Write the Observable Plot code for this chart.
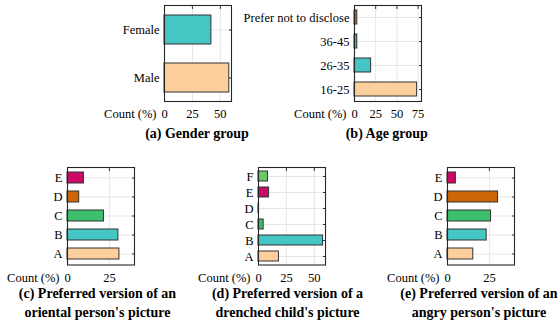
<!DOCTYPE html>
<html><head><meta charset="utf-8">
<script src="https://cdn.jsdelivr.net/npm/d3@7"></script>
<script src="https://cdn.jsdelivr.net/npm/@observablehq/plot@0.6"></script>
<style>
body{margin:0;background:#fff;}
#root{position:relative;width:559px;height:324px;overflow:hidden;font-family:'Liberation Serif','Times New Roman',Times,'DejaVu Serif',serif;background:#fff;}
.panel{position:absolute;}
.panel svg, .panel svg text{font-family:'Liberation Serif','Times New Roman',Times,'DejaVu Serif',serif !important;}
.cap{position:absolute;font-family:'Liberation Serif','Times New Roman',Times,'DejaVu Serif',serif;font-weight:bold;font-size:14px;text-align:center;white-space:nowrap;line-height:19px;transform:translateX(-50%);color:#000;}
</style></head><body><div id="root"></div>
<script>
// ---- data ----
const genderCats = ["Male", "Female"];
const genderVals = [58, 42];
const ageCats = ["16-25", "26-35", "36-45", "Prefer not to disclose"];
const ageVals = [73.8, 19.6, 3.3, 3.3];
const orientalCats = ["A", "B", "C", "D", "E"];
const orientalVals = [31, 30.4, 21.8, 7, 9.8];
const drenchedCats = ["A", "B", "C", "D", "E", "F"];
const drenchedVals = [18.3, 57.8, 4.6, 0.5, 9.5, 8.5];
const angryCats = ["A", "B", "C", "D", "E"];
const angryVals = [15.4, 23.4, 26, 30.2, 5];
const ticks60 = [0, 25, 50];
const ticks79 = [0, 25, 50, 75];
const ticks40 = [0, 25];
const axisLabel = "Count (%)";
const captions = [
  "(a) Gender group",
  "(b) Age group",
  "(c) Preferred version of an<br>oriental person's picture",
  "(d) Preferred version of a<br>drenched child's picture",
  "(e) Preferred version of an<br>angry person's picture"
];
// ---- styling ----
const palette = ["#fdcf9c", "#45c5c4", "#3dbf6d", "#cc6606", "#cc0a66", "#66cc66"];
const agePalette = ["#fdcf9c", "#45c5c4", "#3dbf6d", "#cc6606"];
const serif = "'Liberation Serif','Times New Roman',Times,'DejaVu Serif',serif";

const root = document.getElementById("root");

function panel(cats, vals, colors, domain, ticks, fl, ft, fw, fh, ml) {
  const mt = 3, mr = 6, mb = 24;
  const data = cats.map((c, i) => ({c, v: vals[i], col: colors[i]}));
  const p = Plot.plot({
    width: ml + fw + mr, height: mt + fh + mb,
    marginLeft: ml, marginRight: mr, marginTop: mt, marginBottom: mb,
    style: {fontFamily: serif, fontSize: "12.5px", background: "transparent", overflow: "visible", color: "#000"},
    x: {domain, label: null},
    y: {domain: cats.slice().reverse(), paddingInner: 0.4, paddingOuter: 0.2, align: 0.5, label: null},
    marks: [
      Plot.gridX(ticks, {stroke: "#e6e6e6", strokeOpacity: 1}),
      Plot.gridY(cats, {stroke: "#e6e6e6", strokeOpacity: 1}),
      Plot.barX(data, {x: "v", y: "c", fill: "col", stroke: "#333", strokeWidth: 1}),
      Plot.axisX(ticks, {anchor: "bottom", tickSize: 0, tickPadding: 8, label: null}),
      Plot.axisY({anchor: "left", tickSize: 0, tickPadding: 5, label: null}),
      Plot.axisX(ticks, {anchor: "top", tickSize: -3, tickFormat: () => "", label: null, stroke: "#333"}),
      Plot.axisY({anchor: "right", tickSize: -3, tickFormat: () => "", label: null, stroke: "#333"}),
      Plot.text([axisLabel], {frameAnchor: "bottom-left", textAnchor: "end", lineAnchor: "top", dx: -8, dy: 8, fill: "#000"}),
      Plot.frame({stroke: "#262626", strokeWidth: 1.1})
    ]
  });
  const d = document.createElement("div");
  d.className = "panel";
  d.style.left = (fl - ml) + "px";
  d.style.top = (ft - mt) + "px";
  d.appendChild(p);
  root.appendChild(d);
}

panel(genderCats, genderVals, [palette[0], palette[1]], [0, 60], ticks60, 164, 5, 67, 96, 60);
panel(ageCats, ageVals, agePalette, [0, 79], ticks79, 354, 5, 67, 96, 118);
panel(orientalCats, orientalVals, palette, [0, 40], ticks40, 67, 167, 67, 97.5, 60);
panel(drenchedCats, drenchedVals, palette, [0, 60], ticks60, 258, 167, 67, 97.5, 60);
panel(angryCats, angryVals, palette, [0, 40], ticks40, 447, 167, 67, 97.5, 60);

const capPos = [[197, 123.5], [386.8, 123.5], [97.5, 283.5], [287.5, 283.5], [479, 283.5]];
captions.forEach((t, i) => {
  const c = document.createElement("div");
  c.className = "cap";
  c.innerHTML = t;
  c.style.left = capPos[i][0] + "px";
  c.style.top = capPos[i][1] + "px";
  root.appendChild(c);
});
</script>
</body></html>
